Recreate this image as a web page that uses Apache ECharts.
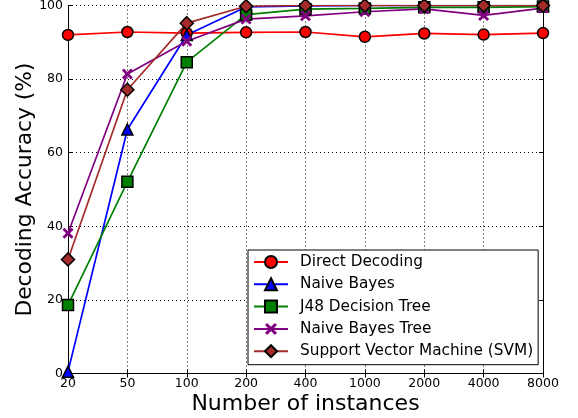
<!DOCTYPE html>
<html>
<head>
<meta charset="utf-8">
<script src="https://cdn.jsdelivr.net/npm/echarts@6/dist/echarts.min.js"></script>
<style>
html,body{margin:0;padding:0;background:#fff;}
#chart{width:578px;height:418px;}
</style>
</head>
<body>
<div id="chart"></div>
<script>
const categories = ['20','50','100','200','400','1000','2000','4000','8000'];
const directDecoding = [92.0, 92.8, 92.5, 92.7, 92.8, 91.5, 92.4, 92.1, 92.5];
const naiveBayes = [0.5, 66.3, 92.0, 99.6, 99.9, 100, 100, 100, 100];
const j48Tree = [18.6, 52.1, 84.6, 97.5, 99.0, 99.2, 99.5, 99.5, 99.7];
const naiveBayesTree = [38.1, 81.4, 90.3, 96.3, 97.2, 98.3, 99.1, 97.3, 99.3];
const svm = [31.0, 77.1, 95.2, 99.8, 100, 100, 100, 100, 100];
const yTicks = {min: 0, max: 100, interval: 20};

const FONT = 'DejaVu Sans';
const X_PATH = 'path://M0,1.8 L1.8,0 L5,3.2 L8.2,0 L10,1.8 L6.8,5 L10,8.2 L8.2,10 L5,6.8 L1.8,10 L0,8.2 L3.2,5 Z';

function mk(name, data, color, symbol, size, fill, border) {
  return {
    name: name, type: 'line', data: data, symbol: symbol, symbolSize: size,
    showAllSymbol: true,
    lineStyle: {color: color, width: 1.7},
    itemStyle: {color: fill, borderColor: border ? '#000' : fill, borderWidth: border ? 1.5 : 0, opacity: 1},
    emphasis: {disabled: true},
    animation: false
  };
}

const chart = echarts.init(document.getElementById('chart'), null, {renderer: 'canvas'});
chart.setOption({
  backgroundColor: '#fff',
  animation: false,
  grid: {left: 68, right: 35, top: 5.5, bottom: 44.5, show: false, containLabel: false, outerBoundsMode: 'none'},
  legend: {
    orient: 'vertical', left: 248, top: 250,
    padding: [4.5, 5, 6, 5],
    itemWidth: 34, itemHeight: 15, itemGap: 7.3,
    borderColor: '#000', borderWidth: 1, backgroundColor: '#fff',
    textStyle: {fontFamily: FONT, fontSize: 15.3, color: '#000', padding: [0, 0, 0, 7]},
    data: ['Direct Decoding','Naive Bayes','J48 Decision Tree','Naive Bayes Tree','Support Vector Machine (SVM)']
  },
  xAxis: [{
    type: 'category', data: categories, boundaryGap: false, position: 'bottom',
    name: 'Number of instances', nameLocation: 'middle', nameGap: 20, nameMoveOverlap: false,
    nameTextStyle: {fontFamily: FONT, fontSize: 22, color: '#000', verticalAlign: 'top'},
    axisLine: {lineStyle: {color: '#000', width: 1}},
    axisTick: {inside: true, length: 4, lineStyle: {color: '#000'}, alignWithLabel: true},
    axisLabel: {fontFamily: FONT, fontSize: 12.5, color: '#000', margin: 4},
    splitLine: {show: true, lineStyle: {color: '#000', type: [1, 3], width: 1}}
  }, {
    type: 'category', data: categories, boundaryGap: false, position: 'top',
    axisLine: {lineStyle: {color: '#000', width: 1}},
    axisTick: {inside: true, length: 4, lineStyle: {color: '#000'}},
    axisLabel: {show: false}, splitLine: {show: false}
  }],
  yAxis: [{
    type: 'value', min: yTicks.min, max: yTicks.max, interval: yTicks.interval, position: 'left',
    name: 'Decoding Accuracy (%)', nameLocation: 'middle', nameGap: 32, nameMoveOverlap: false,
    nameTextStyle: {fontFamily: FONT, fontSize: 21.8, color: '#000'},
    axisLine: {show: true, lineStyle: {color: '#000', width: 1}},
    axisTick: {show: true, inside: true, length: 4, lineStyle: {color: '#000'}},
    axisLabel: {fontFamily: FONT, fontSize: 12.5, color: '#000', margin: 5},
    splitLine: {show: true, lineStyle: {color: '#000', type: [1, 3], width: 1}}
  }, {
    type: 'value', min: yTicks.min, max: yTicks.max, interval: yTicks.interval, position: 'right',
    axisLine: {show: true, lineStyle: {color: '#000', width: 1}},
    axisTick: {show: true, inside: true, length: 4, lineStyle: {color: '#000'}},
    axisLabel: {show: false}, splitLine: {show: false}
  }],
  series: [
    mk('Direct Decoding', directDecoding, '#ff0000', 'circle', 11, '#ff0000', true),
    mk('Naive Bayes', naiveBayes, '#0000ff', 'triangle', 11, '#0000ff', true),
    mk('J48 Decision Tree', j48Tree, '#008000', 'rect', 11, '#008000', true),
    mk('Naive Bayes Tree', naiveBayesTree, '#800080', X_PATH, 11, '#800080', false),
    mk('Support Vector Machine (SVM)', svm, '#a52a2a', 'diamond', 13, '#a52a2a', true)
  ]
});
</script>
</body>
</html>
